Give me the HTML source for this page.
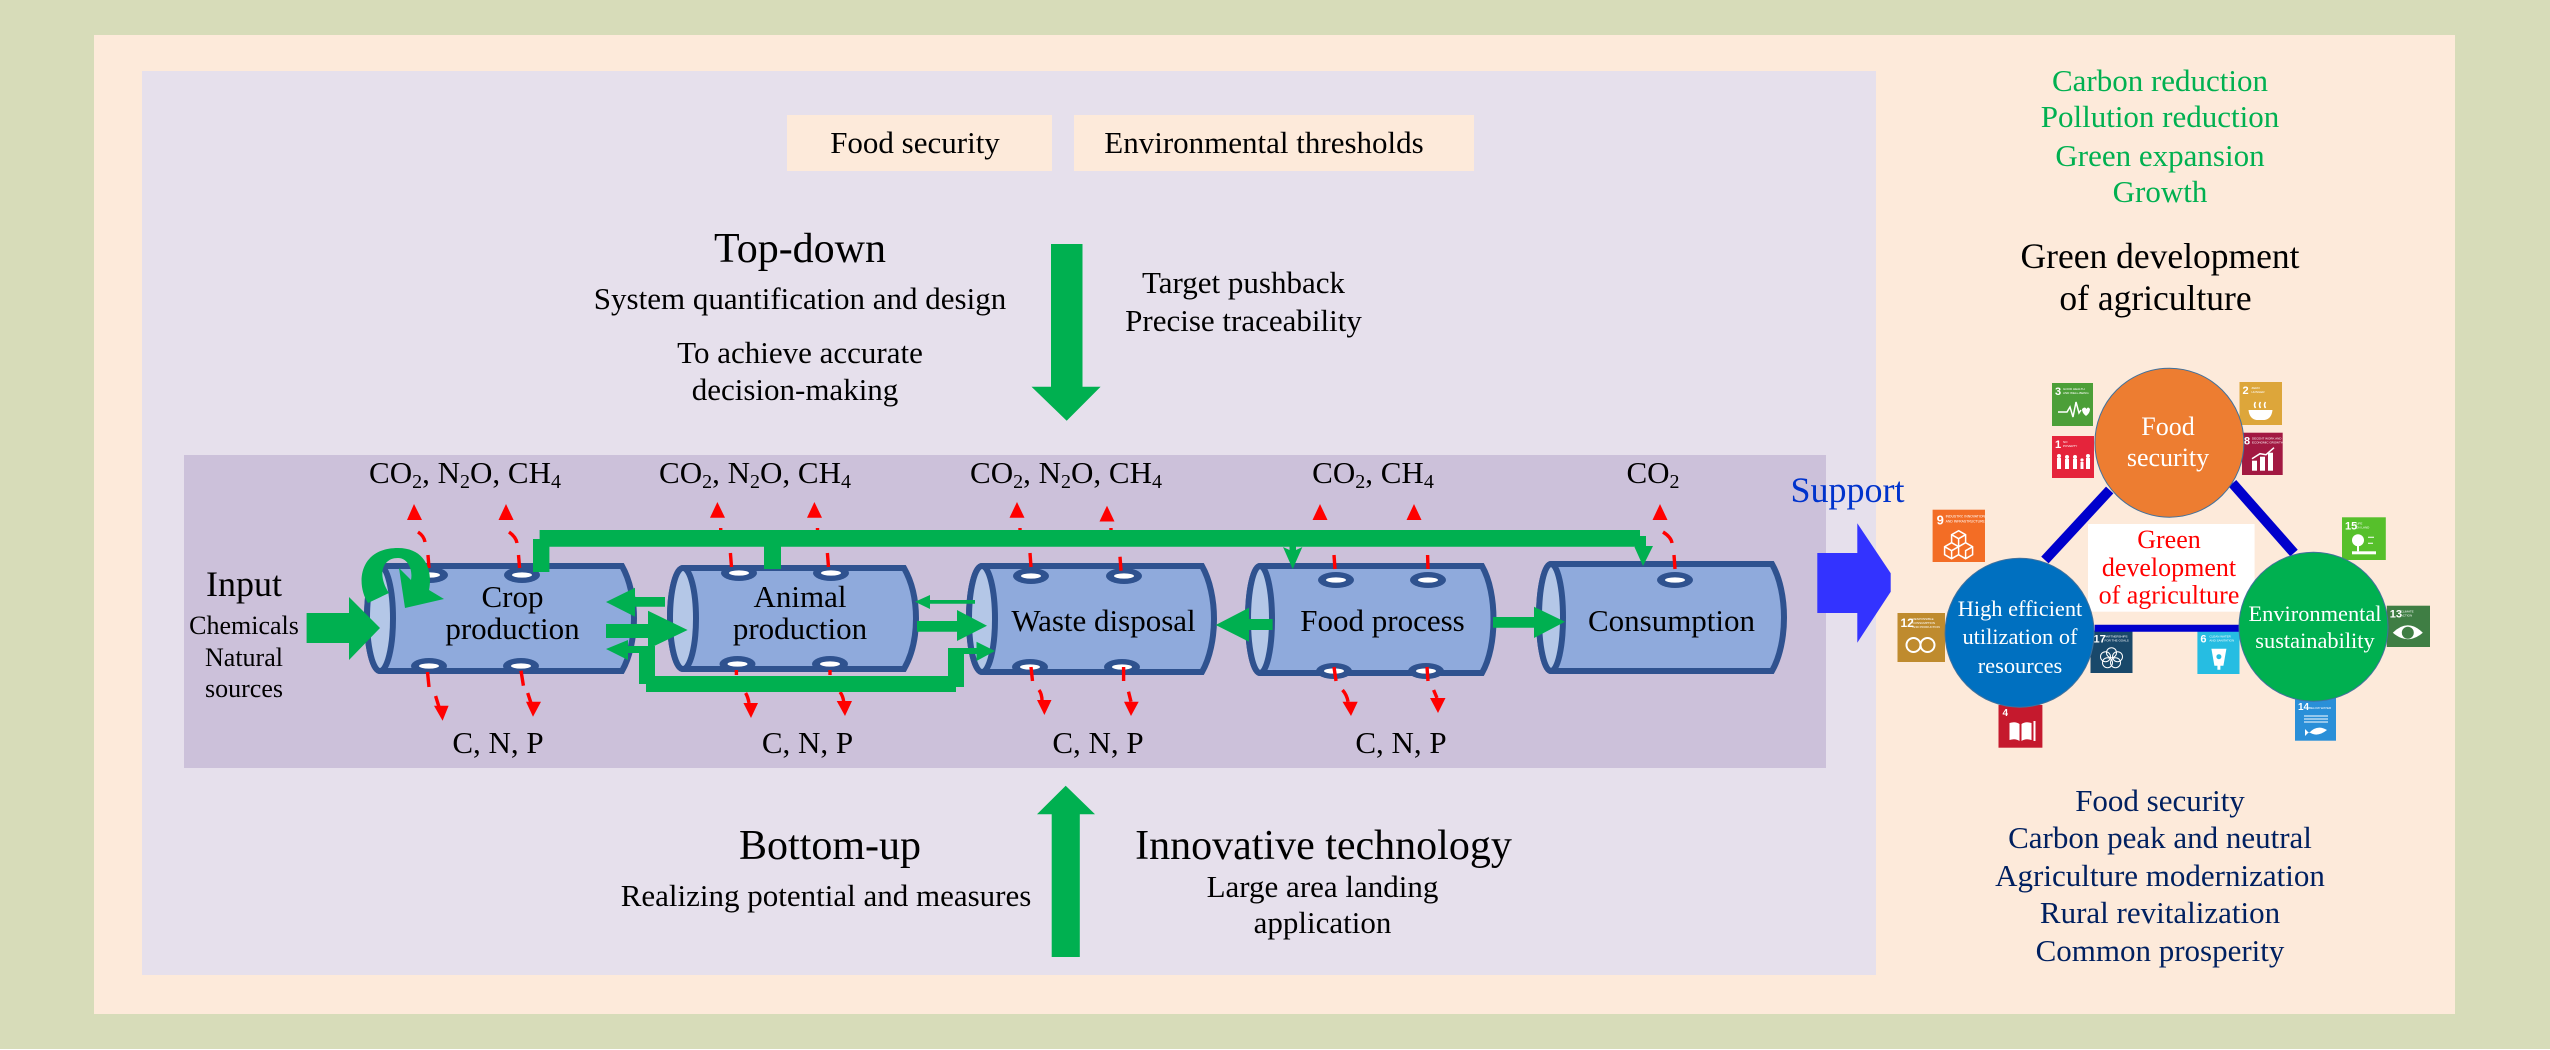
<!DOCTYPE html>
<html>
<head>
<meta charset="utf-8">
<style>
html,body{margin:0;padding:0;background:#fff}
svg{display:block}
text{font-family:"Liberation Serif",serif;fill:#000;text-anchor:middle}
.s{font-family:"Liberation Sans",sans-serif;fill:#fff;text-anchor:start}
.c{fill:#8faadc;stroke:#2f528f;stroke-width:6}
.e{fill:#b4c7e7;stroke:#2f528f;stroke-width:6}
.p{fill:#2f528f}
.w{fill:#fff}
.r{stroke:#f00;stroke-width:3.4;fill:none}
.h{fill:#f00}
.g{fill:#00b050}
.i{fill:#fff}
.l{fill:none;stroke:#fff;stroke-width:1.5}
</style>
</head>
<body>
<svg width="2550" height="1050" viewBox="0 0 2550 1050" xmlns="http://www.w3.org/2000/svg">
<rect width="2550" height="1050" fill="#d7dcb9"/>
<rect y="1049" width="2550" height="1" fill="#fff"/>
<rect x="94" y="35" width="2361" height="979" fill="#fdeada"/>
<rect x="142" y="71" width="1734" height="904" fill="#e6e0ec"/>
<rect x="184" y="455" width="1642" height="313" fill="#ccc1da"/>

<rect x="787" y="115" width="265" height="56" fill="#fdeada"/>
<rect x="1074" y="115" width="400" height="56" fill="#fdeada"/>
<text x="915" y="153" font-size="31">Food security</text>
<text x="1264" y="153" font-size="31">Environmental thresholds</text>

<text x="800" y="262" font-size="42">Top-down</text>
<text x="800" y="309" font-size="31">System quantification and design</text>
<text x="800" y="363" font-size="31">To achieve accurate</text>
<text x="795" y="400" font-size="31">decision-making</text>
<text x="1243.5" y="293" font-size="31">Target pushback</text>
<text x="1243.5" y="331" font-size="31">Precise traceability</text>
<polygon class="g" points="1051,244 1082.5,244 1082.5,386.7 1100.6,386.7 1066.7,420.7 1031.5,386.7 1051,386.7"/>

<polygon class="g" points="1051.7,957 1079.8,957 1079.8,814.3 1095,814.3 1065.7,785.7 1037,814.3 1051.7,814.3"/>
<text x="830" y="859" font-size="42">Bottom-up</text>
<text x="826" y="906" font-size="31">Realizing potential and measures</text>
<text x="1323.5" y="859" font-size="42">Innovative technology</text>
<text x="1322.5" y="897" font-size="31">Large area landing</text>
<text x="1322.5" y="933" font-size="31">application</text>

<!-- cylinders -->
<path class="c" d="M380,566 L622,566 C630,580 634,600 634,618.5 C634,637 630,657 622,671 L380,671 A13,52.5 0 0 1 380,566 Z"/>
<ellipse class="e" cx="380" cy="618.5" rx="13" ry="52.5"/>
<path class="c" d="M683,568 L904,568 C912,582 916,600 916,618.5 C916,637 912,655 904,669 L683,669 A13,50.5 0 0 1 683,568 Z"/>
<ellipse class="e" cx="683" cy="618.5" rx="13" ry="50.5"/>
<path class="c" d="M982,566 L1202,566 C1210,580 1214,600 1214,619 C1214,638 1210,658 1202,672 L982,672 A13,53 0 0 1 982,566 Z"/>
<ellipse class="e" cx="982" cy="619" rx="13" ry="53"/>
<path class="c" d="M1260,566 L1482,566 C1490,580 1493.5,600 1493.5,619.5 C1493.5,639 1490,659 1482,673 L1260,673 A12,53.5 0 0 1 1260,566 Z"/>
<ellipse class="e" cx="1260" cy="619.5" rx="12" ry="53.5"/>
<path class="c" d="M1551,564 L1772,564 C1780,578 1784,598 1784,617.5 C1784,637 1780,657 1772,671 L1551,671 A12,53.5 0 0 1 1551,564 Z"/>
<ellipse class="e" cx="1551" cy="617.5" rx="12" ry="53.5"/>

<!-- ports -->
<g class="p">
<ellipse cx="430" cy="575" rx="18" ry="8"/><ellipse cx="522" cy="575" rx="18" ry="8"/>
<ellipse cx="429" cy="666" rx="18" ry="8"/><ellipse cx="521" cy="666" rx="18" ry="8"/>
<ellipse cx="739" cy="573" rx="18" ry="8"/><ellipse cx="831" cy="573" rx="18" ry="8"/>
<ellipse cx="737.5" cy="664" rx="18" ry="8"/><ellipse cx="830" cy="664" rx="18" ry="8"/>
<ellipse cx="1031" cy="576" rx="18" ry="8"/><ellipse cx="1124" cy="576" rx="18" ry="8"/>
<ellipse cx="1030" cy="667" rx="18" ry="8"/><ellipse cx="1122" cy="667" rx="18" ry="8"/>
<ellipse cx="1336" cy="580" rx="18" ry="8"/><ellipse cx="1428" cy="580" rx="18" ry="8"/>
<ellipse cx="1334" cy="671" rx="18" ry="8"/><ellipse cx="1426" cy="671" rx="18" ry="8"/>
<ellipse cx="1675" cy="580" rx="18" ry="8"/>
</g>
<g class="w">
<ellipse cx="430" cy="575" rx="10" ry="2.6"/><ellipse cx="522" cy="575" rx="10" ry="2.6"/>
<ellipse cx="429" cy="666" rx="10" ry="2.6"/><ellipse cx="521" cy="666" rx="10" ry="2.6"/>
<ellipse cx="739" cy="573" rx="10" ry="2.6"/><ellipse cx="831" cy="573" rx="10" ry="2.6"/>
<ellipse cx="737.5" cy="664" rx="10" ry="2.6"/><ellipse cx="830" cy="664" rx="10" ry="2.6"/>
<ellipse cx="1031" cy="576" rx="10" ry="2.6"/><ellipse cx="1124" cy="576" rx="10" ry="2.6"/>
<ellipse cx="1030" cy="667" rx="10" ry="2.6"/><ellipse cx="1122" cy="667" rx="10" ry="2.6"/>
<ellipse cx="1336" cy="580" rx="10" ry="2.6"/><ellipse cx="1428" cy="580" rx="10" ry="2.6"/>
<ellipse cx="1334" cy="671" rx="10" ry="2.6"/><ellipse cx="1426" cy="671" rx="10" ry="2.6"/>
<ellipse cx="1675" cy="580" rx="10" ry="2.6"/>
</g>

<!-- red dashed -->
<g class="r">
<path d="M429,568 L428,555 M425,542 Q424,536 418,532"/>
<path d="M519.6,568 L518.5,555 M517,543 Q516,537 509,532"/>
<path d="M731.5,567 L730.4,553 M720.7,531 L720.7,528"/>
<path d="M828.5,567 L827.4,553 M817.5,531 L817.5,528"/>
<path d="M1031,567 L1030,553 M1020,531 L1020,528"/>
<path d="M1121,570.7 L1120,556.7 M1111,531 L1111,528"/>
<path d="M1335,569 L1334,555"/>
<path d="M1428,569 L1427.6,555"/>
<path d="M1675,569 L1674,555 M1672,543 Q1671,537 1663,532"/>
<path d="M427.5,672 L429,687 M435.6,696 L439,707"/>
<path d="M521,670.7 L523.4,685.7 M527.7,693 L531,703"/>
<path d="M736.4,670 L736.4,675 M745.6,693 Q748,697 749,703"/>
<path d="M830,670 L830,675 M840,692 Q843,696 843.7,701.7"/>
<path d="M1031,667 L1032.5,681 M1039,690 Q1042,694 1042,700.7"/>
<path d="M1123.6,667 L1123.6,681 M1128.5,691.7 L1131,701.7"/>
<path d="M1334,667 L1336,681 M1342.5,690 Q1347,695 1348,701.7"/>
<path d="M1427,667 L1428,681 M1433.6,690 L1437,698"/>
</g>
<g class="h">
<polygon points="414,504 422,520 407,520"/>
<polygon points="506,504 513.6,520 498.5,520"/>
<polygon points="717.4,502 725,517.7 710,517.7"/>
<polygon points="814.4,502 822,517.7 807,517.7"/>
<polygon points="1017,502 1024.5,517.7 1009.5,517.7"/>
<polygon points="1107,505.7 1114.5,521.5 1099.5,521.5"/>
<polygon points="1320,504 1327.5,520 1312.5,520"/>
<polygon points="1414,504 1421.5,520 1406.5,520"/>
<polygon points="1660,504 1667.5,520 1652.5,520"/>
<polygon points="442.6,720.7 434,705.7 448.6,705.7"/>
<polygon points="533,716.7 526,701.7 541,701.7"/>
<polygon points="751,718 743.4,703 758,703"/>
<polygon points="845,716 836.7,701 852,701"/>
<polygon points="1044.4,715 1037,700 1051.5,700"/>
<polygon points="1131,716 1124,701.7 1138.7,701.7"/>
<polygon points="1351,716 1342.5,701.7 1357.7,701.7"/>
<polygon points="1438,713 1430,698 1445.5,698"/>
</g>

<!-- green arrows -->
<g class="g">
<polygon points="306.6,613 349,613 349,597 380,628 349,660 349,643 306.6,643"/>
<path d="M368,603 C356,585 358,548 398,548 C425,548 433,570 429,590 L444,599 L405,608 L399,568 L411,580 C413,570 408,558 398,558 C382,558 377,575 389,593 Z"/>
<polygon points="533,572 533,539 539.6,539 539.6,530 1640,530 1640,536 1646,536 1646,546 1653,546 1643,566 1634,546 1634,546.7 549.4,546.7 549.4,572"/>
<rect x="764" y="546" width="17" height="23"/>
<polygon points="1289.5,546 1296,546 1296,550 1302.4,547 1292.7,569 1283,547 1289.5,550"/>
<polygon points="665,597 635,597 635,587.7 606,602 635,616.7 635,606.7 665,606.7"/>
<polygon points="606,624 648,624 648,610.7 687.6,630 648,649 648,638 606,638"/>
<polygon points="606,649 628,640 628,646 655,646 655,676 948,676 948,648 976.5,648 976.5,641.7 995,651 976.5,661 976.5,654 964,654 964,687 956,687 956,692 646,692 646,684 639,684 639,653 628,653 628,660"/>
<polygon points="975,600 930,600 930,595 915,601.7 930,609 930,603.7 975,603.7"/>
<polygon points="917,621 957,621 957,610 987,625.7 957,641 957,631.7 917,631.7"/>
<polygon points="1272.6,619 1249,619 1249,607.7 1215.7,625 1249,641.7 1249,630 1272.6,630"/>
<polygon points="1493,617 1534,617 1534,606.7 1565,621.7 1534,638 1534,627.7 1493,627.7"/>
</g>

<!-- band labels -->
<text x="244" y="596" font-size="36">Input</text>
<text x="244" y="634" font-size="26">Chemicals</text>
<text x="244" y="666" font-size="26">Natural</text>
<text x="244" y="697" font-size="26">sources</text>

<text x="465" y="483" font-size="31">CO<tspan dy="5" font-size="20">2</tspan><tspan dy="-5">, N</tspan><tspan dy="5" font-size="20">2</tspan><tspan dy="-5">O, CH</tspan><tspan dy="5" font-size="20">4</tspan></text>
<text x="755" y="483" font-size="31">CO<tspan dy="5" font-size="20">2</tspan><tspan dy="-5">, N</tspan><tspan dy="5" font-size="20">2</tspan><tspan dy="-5">O, CH</tspan><tspan dy="5" font-size="20">4</tspan></text>
<text x="1066" y="483" font-size="31">CO<tspan dy="5" font-size="20">2</tspan><tspan dy="-5">, N</tspan><tspan dy="5" font-size="20">2</tspan><tspan dy="-5">O, CH</tspan><tspan dy="5" font-size="20">4</tspan></text>
<text x="1373" y="483" font-size="31">CO<tspan dy="5" font-size="20">2</tspan><tspan dy="-5">, CH</tspan><tspan dy="5" font-size="20">4</tspan></text>
<text x="1653" y="483" font-size="31">CO<tspan dy="5" font-size="20">2</tspan></text>

<text x="498" y="753" font-size="31">C, N, P</text>
<text x="807.5" y="753" font-size="31">C, N, P</text>
<text x="1098" y="753" font-size="31">C, N, P</text>
<text x="1401" y="753" font-size="31">C, N, P</text>

<text x="512.5" y="607" font-size="31">Crop</text>
<text x="512.5" y="639" font-size="31">production</text>
<text x="800" y="607" font-size="31">Animal</text>
<text x="800" y="639" font-size="31">production</text>
<text x="1103.5" y="631" font-size="31">Waste disposal</text>
<text x="1382.5" y="631" font-size="31">Food process</text>
<text x="1671.5" y="631" font-size="31">Consumption</text>

<!-- support -->
<text x="1847.5" y="502" font-size="36" style="fill:#0033cc">Support</text>
<polygon fill="#3333ff" points="1817.3,553 1857.3,553 1857.3,523.3 1890.7,573.3 1890.7,591.7 1857.3,642.7 1857.3,613 1817.3,613"/>

<!-- right texts -->
<g font-size="31" style="fill:#00b050">
<text x="2160" y="91" font-size="31" style="fill:#00b050">Carbon reduction</text>
<text x="2160" y="127" font-size="31" style="fill:#00b050">Pollution reduction</text>
<text x="2160" y="166" font-size="31" style="fill:#00b050">Green expansion</text>
<text x="2160" y="202" font-size="31" style="fill:#00b050">Growth</text>
</g>
<text x="2160" y="268" font-size="35.5">Green development</text>
<text x="2155.5" y="310" font-size="35.5">of agriculture</text>

<text x="2160" y="811" font-size="31" style="fill:#002060">Food security</text>
<text x="2160" y="848" font-size="31" style="fill:#002060">Carbon peak and neutral</text>
<text x="2160" y="886" font-size="31" style="fill:#002060">Agriculture modernization</text>
<text x="2160" y="923" font-size="31" style="fill:#002060">Rural revitalization</text>
<text x="2160" y="961" font-size="31" style="fill:#002060">Common prosperity</text>

<!-- SDG squares -->
<g transform="translate(2052,383)">
<rect width="41" height="43" fill="#4c9f38"/><text class="s" x="3" y="12" font-size="11" font-weight="bold">3</text><text class="s" x="11" y="7" font-size="3">GOOD HEALTH</text><text class="s" x="11" y="11" font-size="3">AND WELL-BEING</text>
<polyline class="l" points="6,29 15,29 18,24 21,34 24,19 27,30 29,27"/><path class="i" d="M30,26 Q33,23 34.5,26 Q36,23 38,26 Q38,30 34,33 Q30,30 30,26Z"/>
</g>
<g transform="translate(2052,436)">
<rect width="42" height="42" fill="#e5243b"/><text class="s" x="3" y="12" font-size="11" font-weight="bold">1</text><text class="s" x="11" y="7" font-size="3">NO</text><text class="s" x="11" y="11" font-size="3">POVERTY</text>
<g class="i"><circle cx="7" cy="20" r="2"/><rect x="5" y="22" width="4" height="11"/><circle cx="15" cy="21" r="2"/><rect x="13" y="23" width="4" height="10"/><circle cx="23" cy="21" r="2"/><rect x="21" y="23" width="4" height="10"/><circle cx="30" cy="24" r="1.6"/><rect x="28.5" y="26" width="3" height="7"/><circle cx="36" cy="20" r="2"/><rect x="34" y="22" width="4" height="11"/></g>
</g>
<g transform="translate(2239.5,382)">
<rect width="42.5" height="43" fill="#dda63a"/><text class="s" x="3" y="12" font-size="11" font-weight="bold">2</text><text class="s" x="12" y="7" font-size="3">ZERO</text><text class="s" x="12" y="11" font-size="3">HUNGER</text>
<path class="l" d="M16,26 Q14,23 16,20 M21,26 Q19,23 21,20 M26,26 Q24,23 26,20"/><path class="i" d="M9,28 H33 Q32,37 25,38 H17 Q10,37 9,28Z"/>
</g>
<g transform="translate(2242,432.7)">
<rect width="40.7" height="42.3" fill="#a21942"/><text class="s" x="2" y="12" font-size="11" font-weight="bold">8</text><text class="s" x="10" y="7" font-size="3">DECENT WORK AND</text><text class="s" x="10" y="11" font-size="3">ECONOMIC GROWTH</text>
<g class="i"><rect x="10" y="28" width="5" height="10"/><rect x="18" y="24" width="5" height="14"/><rect x="26" y="20" width="5" height="18"/></g><polyline class="l" points="10,26 18,21 24,22 32,15"/>
</g>
<g transform="translate(1932.6,509.7)">
<rect width="52.4" height="52.3" fill="#f36d25"/><text class="s" x="4" y="15" font-size="13" font-weight="bold">9</text><text class="s" x="13" y="8" font-size="3.4">INDUSTRY, INNOVATION</text><text class="s" x="13" y="13" font-size="3.4">AND INFRASTRUCTURE</text>
<path class="l" d="M26,21 L33,25 V33 L26,37 L19,33 V25Z M19,25 L26,29 L33,25 M26,29 V37 M19,33 L12,37 V45 L19,49 L26,45 V37 M12,37 L19,41 V49 M33,33 L40,37 V45 L33,49 L26,45 M19,41 L26,37 M40,37 L33,41 V49"/>
</g>
<g transform="translate(1897.5,613)">
<rect width="47.5" height="49" fill="#bf8b2e"/><text class="s" x="3" y="14" font-size="12" font-weight="bold">12</text><text class="s" x="15" y="7" font-size="3">RESPONSIBLE</text><text class="s" x="15" y="11" font-size="3">CONSUMPTION</text><text class="s" x="15" y="15" font-size="3">AND PRODUCTION</text>
<circle class="l" style="stroke-width:2" cx="16" cy="32" r="7"/><circle class="l" style="stroke-width:2" cx="30" cy="32" r="7"/>
</g>
<g transform="translate(2090.5,630.7)">
<rect width="42" height="42.3" fill="#19486a"/><text class="s" x="3" y="12" font-size="11" font-weight="bold">17</text><text class="s" x="14" y="7" font-size="3">PARTNERSHIPS</text><text class="s" x="14" y="11" font-size="3">FOR THE GOALS</text>
<g class="l" style="stroke-width:1"><circle cx="21" cy="22" r="5"/><circle cx="15" cy="26" r="5"/><circle cx="27" cy="26" r="5"/><circle cx="17" cy="32" r="5"/><circle cx="25" cy="32" r="5"/></g>
</g>
<g transform="translate(2197.4,630.7)">
<rect width="42.1" height="43.3" fill="#26bde2"/><text class="s" x="3" y="12" font-size="11" font-weight="bold">6</text><text class="s" x="12" y="7" font-size="3">CLEAN WATER</text><text class="s" x="12" y="11" font-size="3">AND SANITATION</text>
<path class="i" d="M14,18 H29 L26,35 H23 V39 H20 V35 H17Z"/><circle cx="21.5" cy="26" r="2.5" fill="#26bde2"/>
</g>
<g transform="translate(1998.5,705)">
<rect width="43.9" height="42.7" fill="#c5192d"/>
<path class="i" d="M11,18 Q17,16 21,19 V36 Q17,33 11,35Z M23,19 Q27,16 33,18 V35 Q27,33 23,36Z"/><rect class="i" x="35" y="16" width="2" height="20"/>
<text class="s" x="4" y="11" font-size="10" font-weight="bold">4</text>
</g>
<g transform="translate(2342,517.3)">
<rect width="43.8" height="42.7" fill="#56c02b"/><text class="s" x="3" y="12" font-size="11" font-weight="bold">15</text><text class="s" x="14" y="7" font-size="3">LIFE</text><text class="s" x="14" y="11" font-size="3">ON LAND</text>
<circle class="i" cx="16" cy="23" r="6"/><rect class="i" x="15" y="27" width="2" height="7"/><rect class="i" x="10" y="34" width="24" height="3"/><path class="l" style="stroke-width:1" d="M26,20 H32 M26,26 H31"/>
</g>
<g transform="translate(2386.8,605.7)">
<rect width="43.2" height="41.3" fill="#3f7e44"/><text class="s" x="3" y="12" font-size="11" font-weight="bold">13</text><text class="s" x="14" y="7" font-size="3">CLIMATE</text><text class="s" x="14" y="11" font-size="3">ACTION</text>
<path class="i" d="M6,27 Q21,12 36,27 Q21,40 6,27Z"/><circle cx="21" cy="27" r="6" fill="#3f7e44"/>
</g>
<g transform="translate(2295,698)">
<rect width="41" height="42.7" fill="#2a8fd8"/><text class="s" x="3" y="12" font-size="10" font-weight="bold">14</text><text class="s" x="14" y="11" font-size="3">BELOW WATER</text>
<path class="l" style="stroke-width:1" d="M9,18 H33 M9,21 H33 M9,24 H33"/><path class="i" d="M10,31 L14,35 Q22,26 32,32 Q22,40 14,34 L10,38Z"/>
</g>

<!-- triangle -->
<g stroke="#0000cc" fill="none">
<line x1="2109.7" y1="490" x2="2044.9" y2="560" stroke-width="10"/>
<line x1="2232.5" y1="483.3" x2="2294" y2="553" stroke-width="10"/>
<line x1="2094.7" y1="628.3" x2="2239.5" y2="628.3" stroke-width="7"/>
</g>
<rect x="2088" y="524" width="166.6" height="87.7" fill="#fff"/>
<text x="2169" y="548" font-size="26" style="fill:#f00">Green</text>
<text x="2169" y="576" font-size="26" style="fill:#f00">development</text>
<text x="2169" y="603.5" font-size="26" style="fill:#f00">of agriculture</text>

<circle cx="2169.4" cy="442.7" r="74.5" fill="#ed7d31" stroke="#41719c" stroke-width="1"/>
<circle cx="2019.6" cy="632.7" r="74.5" fill="#0070c0" stroke="#41719c" stroke-width="1"/>
<circle cx="2313.5" cy="626.7" r="74.5" fill="#00b050" stroke="#41719c" stroke-width="1"/>
<text x="2168" y="435" font-size="26" style="fill:#fff">Food</text>
<text x="2168" y="466" font-size="26" style="fill:#fff">security</text>
<text x="2020" y="616" font-size="22.4" style="fill:#fff">High efficient</text>
<text x="2020" y="644" font-size="22.4" style="fill:#fff">utilization of</text>
<text x="2020" y="673" font-size="22.4" style="fill:#fff">resources</text>
<text x="2315" y="621" font-size="22.4" style="fill:#fff">Environmental</text>
<text x="2315" y="648" font-size="22.4" style="fill:#fff">sustainability</text>
</svg>
</body>
</html>
